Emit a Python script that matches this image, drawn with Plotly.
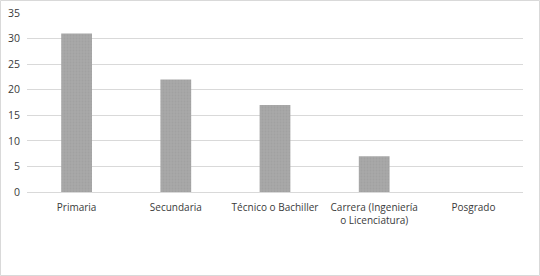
import plotly.graph_objects as go

categories = ["Primaria", "Secundaria", "Técnico o Bachiller", "Carrera (Ingeniería<br>o Licenciatura)", "Posgrado"]
values = [31, 22, 17, 7, 0]
y_ticks = [0, 5, 10, 15, 20, 25, 30, 35]

L, R, T, B = 27, 17, 13, 84
W, H = 540, 276
pw = W - L - R
ph = H - T - B

fig = go.Figure(go.Bar(
    x=categories, y=values,
    marker=dict(color="#a5a5a5", line=dict(width=0),
                pattern=dict(shape=".", fgcolor="#9a9a9a", bgcolor="#a8a8a8", size=3, solidity=0.3)),
    width=0.31,
))

fig.update_layout(
    width=W, height=H,
    margin=dict(l=L, r=R, t=T, b=B, autoexpand=False),
    paper_bgcolor="white", plot_bgcolor="white",
    showlegend=False,
    font=dict(family="Open Sans", size=10, color="#3a3a3a"),
    xaxis=dict(showgrid=False, showline=False, ticks="", tickfont=dict(size=10),
               tickangle=0, automargin=False, ticklabelstandoff=8),
    yaxis=dict(range=[0, 35], tickvals=y_ticks, gridcolor="#d9d9d9", gridwidth=1,
               zeroline=True, zerolinecolor="#d9d9d9", zerolinewidth=1, automargin=False,
               showline=False, ticks="", tickfont=dict(size=10.5), ticklabelstandoff=6),
    shapes=[dict(type="rect", xref="paper", yref="paper",
                 x0=(0.5 - L) / pw, x1=(W - 0.5 - L) / pw,
                 y0=(H - B - (H - 0.5)) / ph, y1=(H - B - 0.5) / ph,
                 line=dict(color="#d9d9d9", width=1), layer="below")],
)

fig.write_html("out.html")
